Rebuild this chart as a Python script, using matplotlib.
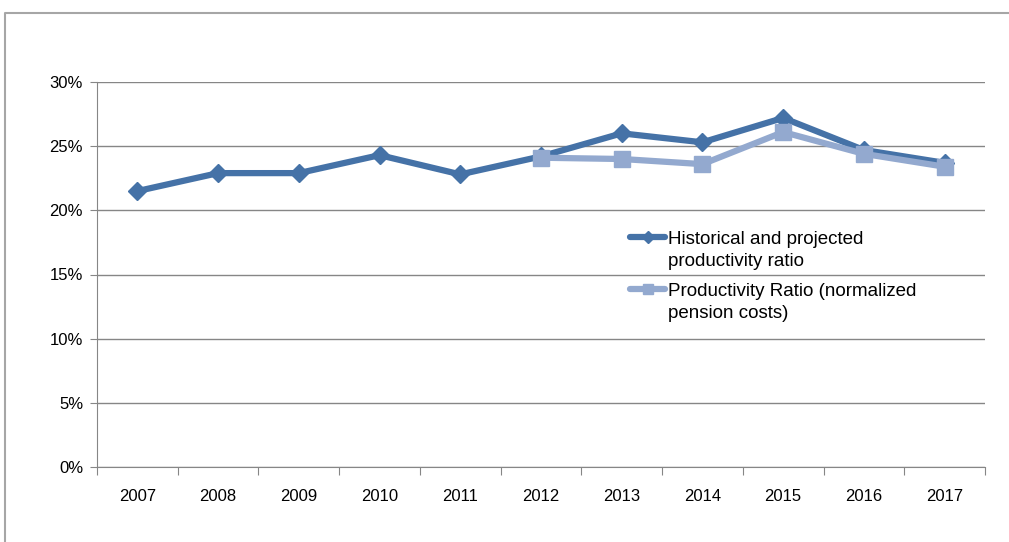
import matplotlib.pyplot as plt
from matplotlib.lines import Line2D
from matplotlib.ticker import FixedLocator, PercentFormatter

years = ['2007', '2008', '2009', '2010', '2011', '2012', '2013', '2014', '2015', '2016', '2017']
historical = [21.5, 22.9, 22.9, 24.3, 22.8, 24.2, 26.0, 25.3, 27.2, 24.7, 23.7]
normalized_years = ['2012', '2013', '2014', '2015', '2016', '2017']
normalized = [24.1, 24.0, 23.6, 26.1, 24.4, 23.4]

label_hist = 'Historical and projected\nproductivity ratio'
label_norm = 'Productivity Ratio (normalized\npension costs)'

plt.rcParams['font.family'] = ['Liberation Sans', 'DejaVu Sans']
plt.rcParams['font.size'] = 12

W, H = 1009, 542
fig = plt.figure(figsize=(W / 100, H / 100), dpi=100)
ax = fig.add_axes([97 / W, 1 - 467 / H, 888 / W, 385 / H])

# outer chart frame: only left and top edges are inside the picture
fig.lines.append(Line2D([4.5 / W, 4.5 / W, 1.05], [-0.05, 1 - 12.5 / H, 1 - 12.5 / H],
                        transform=fig.transFigure, color='#a6a6a6', linewidth=1.5))

x_hist = [years.index(y) for y in years]
x_norm = [years.index(y) for y in normalized_years]

series = [
    (x_hist, historical, '#4572a7', 'D', 9, label_hist),
    (x_norm, normalized, '#93a9cf', 's', 11, label_norm),
]
for i, (xs, ys, col, mk, ms, lab) in enumerate(series):
    ax.plot(xs, ys, color=col, linewidth=4.5, marker=mk, markersize=ms, zorder=3 + i)

ax.set_xlim(-0.5, len(years) - 0.5)
ax.set_ylim(0, 30)
ax.set_yticks([0, 5, 10, 15, 20, 25, 30])
ax.yaxis.set_major_formatter(PercentFormatter(decimals=0))
ax.grid(axis='y', color='#868686', linewidth=1)
ax.set_axisbelow(True)

ax.xaxis.set_major_locator(FixedLocator([i - 0.5 for i in range(len(years) + 1)]))
ax.xaxis.set_major_formatter(plt.NullFormatter())
ax.xaxis.set_minor_locator(FixedLocator(range(len(years))))
ax.set_xticklabels(years, minor=True)
ax.tick_params(axis='x', which='major', length=6, color='#868686', direction='out')
ax.tick_params(axis='x', which='minor', length=0, pad=16)
ax.tick_params(axis='y', length=5, color='#868686', pad=5)

for side in ['top', 'right']:
    ax.spines[side].set_visible(False)
for side in ['left', 'bottom']:
    ax.spines[side].set_color('#868686')

# legend: handle sits level with the first line of each two-line label
leg_rows = [237, 289]
for (xs, ys, col, mk, ms, lab), yrow in zip(series, leg_rows):
    yf = 1 - yrow / H
    fig.lines.append(Line2D([630 / W, 665 / W], [yf, yf], transform=fig.transFigure,
                            color=col, linewidth=4.5, solid_capstyle='round'))
    fig.lines.append(Line2D([647.5 / W], [yf], transform=fig.transFigure,
                            color=col, marker=mk, markersize=ms * 0.7, linestyle='none'))
    # baseline alignment uses the last line of the label
    fig.text(668 / W, 1 - (yrow + 29) / H, lab, fontsize=13.5, va='baseline',
             ha='left', linespacing=1.35)

fig.savefig('out.png', dpi=100)
